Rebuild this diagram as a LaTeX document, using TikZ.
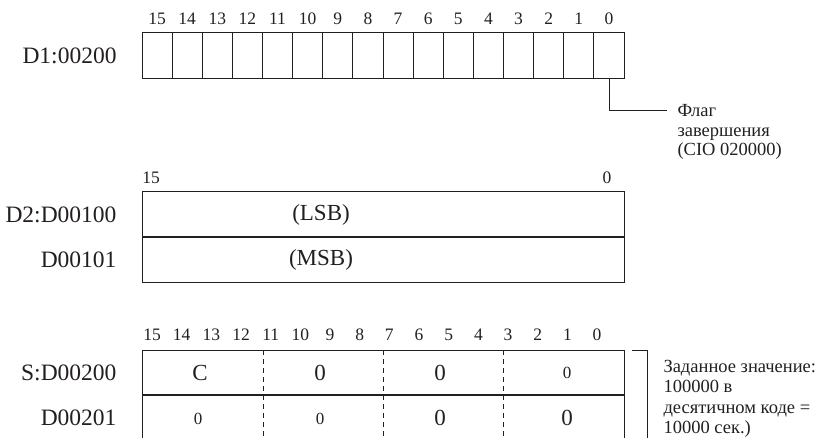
\documentclass[tikz,border=0pt]{standalone}
\usepackage{fontspec}
\setmainfont{Liberation Serif}
\usepackage{xcolor}
\definecolor{ink}{RGB}{35,31,32}

\tikzset{
  bitnum/.style={text=ink, font=\fontsize{17.5}{17.5}\selectfont},
  reglabel/.style={text=ink, anchor=east, inner sep=1pt, font=\fontsize{23.5}{23.5}\selectfont},
  bigval/.style={text=ink, font=\fontsize{23}{23}\selectfont},
  smallval/.style={text=ink, font=\fontsize{17}{17}\selectfont},
  note/.style={text=ink, anchor=base west, inner sep=0pt, font=\fontsize{18.5}{18.5}\selectfont},
}

\begin{document}
\begin{tikzpicture}[x=1pt, y=-1pt, line width=1pt, draw=ink]
    \clip (0,0) rectangle (816,438);
    % D1 register, one box per bit
    \node[reglabel] (d1) at (118,56) {D1:00200};
    \foreach \i in {0,...,15} {
        \pgfmathtruncatemacro\bit{15-\i}
        \draw (142+30.125*\i,33) rectangle ++(30.125,46);
        \node[bitnum] (t\bit) at (157+30.125*\i,19) {\bit};
    }
    \coordinate (bit0) at (609,79);
    \node[note] (flag1) at (677,117) {Флаг};
    \node[note] (flag2) at (677,136.5) {завершения};
    \node[note] (flag3) at (677,156) {(CIO 020000)};
    \draw (bit0) |- ([xshift=-10pt,yshift=6pt]flag1.base west);

    % D2 words
    \node[reglabel] (d2a) at (118,214.5) {D2:D00100};
    \node[reglabel] (d2b) at (118,259.5) {D00101};
    \node[bitnum] (m15) at (151,178) {15};
    \node[bitnum] (m0) at (607,178) {0};
    \draw (142,192) rectangle (624,282);
    \draw[line width=1.3pt] (142,237) -- (624,237);
    \node[bigval] (lsb) at (321,214.5) {(LSB)};
    \node[bigval] (msb) at (321,259.5) {(MSB)};

    % S words, 4 digits each
    \node[reglabel] (sa) at (118,372.5) {S:D00200};
    \node[reglabel] (sb) at (118,417.5) {D00201};
    \foreach \i in {0,...,15} {
        \pgfmathtruncatemacro\bit{15-\i}
        \node[bitnum] (b\bit) at (152+29.67*\i,335) {\bit};
    }
    \draw (142,445) |- (624,350) -- (624,445);
    \draw[line width=1.3pt] (142,395) -- (624,395);
    \foreach \x in {263,383,503}
        \draw[dash pattern=on 5pt off 4pt] (\x,350) -- (\x,445);
    \node[bigval] (c3) at (200,372.5) {C};
    \node[bigval] (c2) at (320,372.5) {0};
    \node[bigval] (c1) at (440,372.5) {0};
    \node[smallval] (c0) at (567,372.5) {0};
    \node[smallval] (e3) at (198,418.5) {0};
    \node[smallval] (e2) at (320,418.5) {0};
    \node[bigval] (e1) at (440,417.5) {0};
    \node[bigval] (e0) at (567,417.5) {0};
    \draw (632,350) -- (647,350) -- (647,445);
    \node[note] (set1) at (663,372) {Заданное значение:};
    \node[note] (set2) at (663,392.5) {100000 в};
    \node[note] (set3) at (663,413) {десятичном коде =};
    \node[note] (set4) at (663,433.5) {10000 сек.)};
\end{tikzpicture}
\end{document}
